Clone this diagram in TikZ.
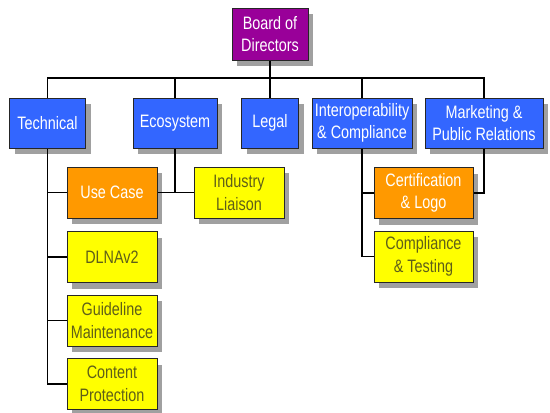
\documentclass[tikz,border=0pt]{standalone}
\usepackage{fontspec}
\setmainfont[FakeStretch=0.8]{Liberation Sans}
\usetikzlibrary{shadows}
\definecolor{bluebox}{RGB}{51,102,255}
\definecolor{purplebox}{RGB}{153,0,153}
\definecolor{orangebox}{RGB}{255,153,0}
\definecolor{yellowbox}{RGB}{255,255,0}
\definecolor{olivetext}{RGB}{95,95,25}
\definecolor{shadowgray}{RGB}{160,160,160}
\begin{document}
\begin{tikzpicture}[x=1pt,y=-1pt,
  box/.style={draw=black!85, line width=1pt, inner sep=0pt, align=center,
    font=\fontsize{18}{22.5}\selectfont,
    drop shadow={shadow xshift=5pt,shadow yshift=-6pt,fill=shadowgray,opacity=1}},
  bluenode/.style={box, fill=bluebox, text=white, minimum height=50pt},
  purplenode/.style={box, fill=purplebox, text=white},
  orangenode/.style={box, fill=orangebox, text=white, minimum width=90pt, minimum height=51pt},
  yellownode/.style={box, fill=yellowbox, text=olivetext, minimum width=90pt, minimum height=51pt},
  conn/.style={line width=1.2pt, black}]
\useasboundingbox (0,0) rectangle (550,413);
\fill[white] (0,0) rectangle (550,413);

\node[purplenode, minimum width=76pt, minimum height=52pt] (board) at (270,34) {Board of\\Directors};

\node[bluenode, minimum width=76pt] (tech) at (47.5,123) {Technical};
\node[bluenode, minimum width=84pt] (eco) at (175,123) {Ecosystem};
\node[bluenode, minimum width=57pt] (legal) at (270,123) {Legal};
\node[bluenode, minimum width=100pt] (interop) at (362,123) {Interoperability\\\& Compliance};
\node[bluenode, minimum width=118pt] (mkt) at (484,123) {Marketing \&\\Public Relations};

\node[orangenode] (usecase) at (112,192.5) {Use Case};
\node[yellownode] (dlna) at (112,257) {DLNAv2};
\node[yellownode] (guide) at (112,320.5) {Guideline\\Maintenance};
\node[yellownode] (content) at (112,384) {Content\\Protection};
\node[yellownode] (industry) at (239,192.5) {Industry\\Liaison};
\node[orangenode, minimum width=99pt] (cert) at (423.5,193) {Certification\\\& Logo};
\node[yellownode, minimum width=99pt] (compl) at (423.5,256.5) {Compliance\\\& Testing};

\coordinate (bus) at (270,78);
\draw[conn] (board.south) -- (legal.north);
\draw[conn] (tech.north) |- (bus) -| (mkt.north);
\draw[conn] (eco.north) -- (eco.north |- bus);
\draw[conn] (interop.north) -- (interop.north |- bus);

\draw[conn] (tech.south) |- (content.west);
\draw[conn] (tech.south |- usecase.west) -- (usecase.west);
\draw[conn] (tech.south |- dlna.west) -- (dlna.west);
\draw[conn] (tech.south |- guide.west) -- (guide.west);

\draw[conn] (eco.south) |- (industry.west);
\draw[conn] (usecase.east) -- (industry.west);

\draw[conn] (interop.south) |- (compl.west);
\draw[conn] (interop.south |- cert.west) -- (cert.west);
\draw[conn] (mkt.south) |- (cert.east);
\end{tikzpicture}
\end{document}
